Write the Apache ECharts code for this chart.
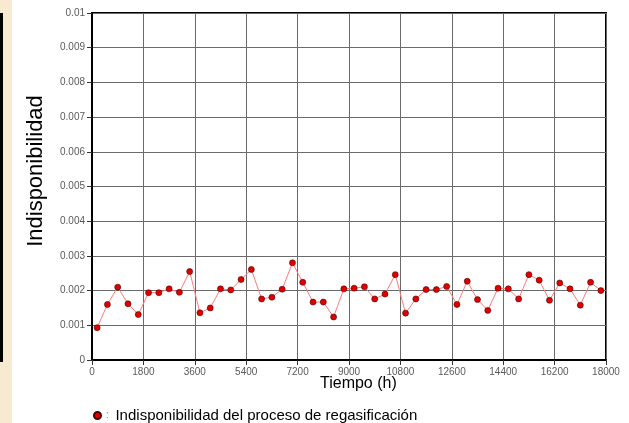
<!DOCTYPE html>
<html>
<head>
<meta charset="utf-8">
<script src="https://cdn.jsdelivr.net/npm/echarts@6/dist/echarts.min.js"></script>
<style>
html,body{margin:0;padding:0;background:#fff;}
#c{width:629px;height:423px;}
</style>
</head>
<body>
<div id="c"></div>
<script>
var seriesName = 'Indisponibilidad del proceso de regasificación';
var xTitle = 'Tiempo (h)';
var yTitle = 'Indisponibilidad';
var times = [180, 540, 900, 1260, 1620, 1980, 2340, 2700, 3060, 3420,
  3780, 4140, 4500, 4860, 5220, 5580, 5940, 6300, 6660, 7020,
  7380, 7740, 8100, 8460, 8820, 9180, 9540, 9900, 10260, 10620,
  10980, 11340, 11700, 12060, 12420, 12780, 13140, 13500, 13860, 14220,
  14580, 14940, 15300, 15660, 16020, 16380, 16740, 17100, 17460, 17820];
var values = [0.00093, 0.00160, 0.00210, 0.00162, 0.00131, 0.00194, 0.00194, 0.00205, 0.00195, 0.00255,
  0.00136, 0.00150, 0.00205, 0.00202, 0.00232, 0.00261, 0.00176, 0.00181, 0.00204, 0.00280,
  0.00224, 0.00167, 0.00167, 0.00124, 0.00205, 0.00207, 0.00211, 0.00176, 0.00190, 0.00246,
  0.00135, 0.00176, 0.00203, 0.00203, 0.00212, 0.00160, 0.00227, 0.00174, 0.00143, 0.00207,
  0.00205, 0.00176, 0.00246, 0.00230, 0.00172, 0.00222, 0.00205, 0.00158, 0.00224, 0.00200];
var xMin = 0, xMax = 18000, xStep = 1800;
var yMin = 0, yMax = 0.01, yStep = 0.001;

var data = times.map(function (t, i) { return [t, values[i]]; });
var chart = echarts.init(document.getElementById('c'), null, {renderer: 'canvas'});
var tickLabel = {color: '#5a5a5a', fontFamily: 'Liberation Sans, Arial', fontSize: 10};
chart.setOption({
  animation: false,
  backgroundColor: '#fff',
  grid: {left: 92, top: 13, right: 23, bottom: 63, show: true, borderColor: '#000', borderWidth: 2, backgroundColor: 'transparent'},
  graphic: [
    {type: 'rect', left: 0, top: 0, shape: {width: 12, height: 423}, style: {fill: '#f7ead0'}, z: -1},
    {type: 'rect', left: 0, top: 13, shape: {width: 3, height: 349}, style: {fill: '#000'}, z: -1},
    {type: 'text', x: 36, y: 171, rotation: Math.PI / 2, style: {text: yTitle, fill: '#000', font: '22px Liberation Sans, Arial', textAlign: 'center', textVerticalAlign: 'middle'}},
    {type: 'text', left: 320, top: 376, style: {text: xTitle, fill: '#000', font: '16px Liberation Sans, Arial'}}
  ],
  legend: {
    left: 88, top: 403, itemWidth: 7, itemHeight: 7, icon: 'circle',
    data: [seriesName],
    formatter: function (n) { return '{c|:}  {t|' + n + '}'; },
    textStyle: {rich: {c: {color: '#888', fontSize: 10, fontFamily: 'Liberation Sans'}, t: {color: '#000', fontSize: 15, fontFamily: 'Liberation Sans, Arial'}}}
  },
  xAxis: {
    type: 'value', min: xMin, max: xMax, interval: xStep,
    axisLine: {show: true, lineStyle: {color: '#000', width: 2}},
    axisTick: {show: true, length: 5, lineStyle: {color: '#333'}},
    axisLabel: Object.assign({margin: 7, formatter: function (v) { return String(v); }}, tickLabel),
    splitLine: {show: true, lineStyle: {color: '#6a6a6a', width: 1}}
  },
  yAxis: {
    type: 'value', min: yMin, max: yMax, interval: yStep,
    axisLine: {show: true, lineStyle: {color: '#000', width: 2}},
    axisTick: {show: true, length: 5, lineStyle: {color: '#333'}},
    axisLabel: Object.assign({margin: 7, formatter: function (v) { return v === 0 ? '0' : String(+v.toFixed(3)); }}, tickLabel),
    splitLine: {show: true, lineStyle: {color: '#6a6a6a', width: 1}}
  },
  series: [{
    name: seriesName, type: 'line', data: data,
    symbol: 'circle', symbolSize: 6,
    lineStyle: {color: '#ff7b7b', width: 1},
    itemStyle: {color: '#e00000', borderColor: '#4a0000', borderWidth: 0.6}
  }]
});
</script>
</body>
</html>
